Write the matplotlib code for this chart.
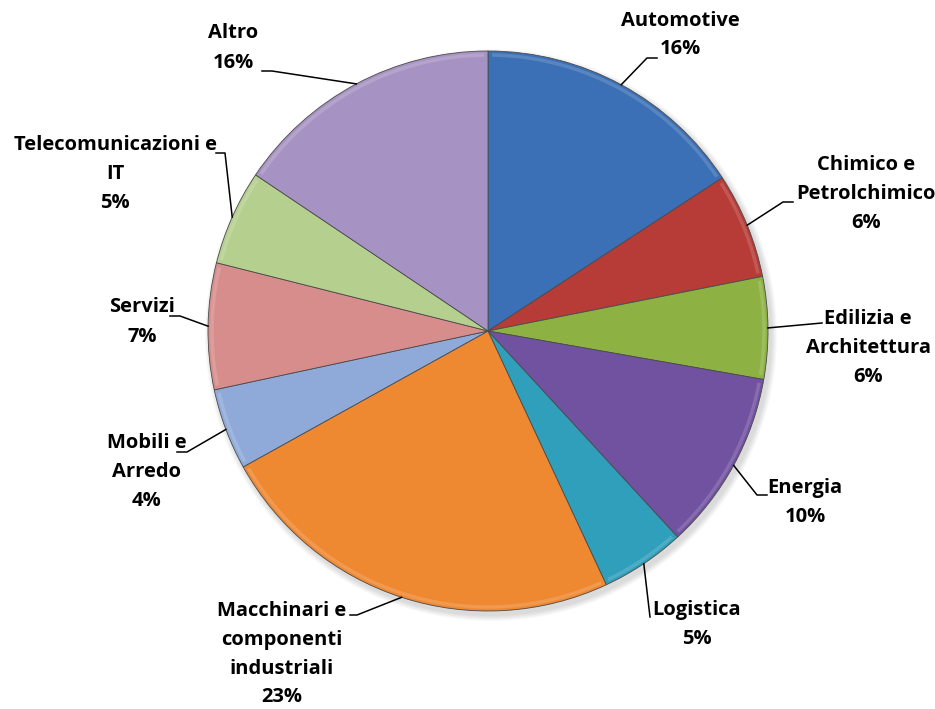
import numpy as np
import matplotlib.pyplot as plt

# sectors, clockwise from 12 o'clock
sectors = ['Automotive', 'Chimico e\nPetrolchimico', 'Edilizia e\nArchitettura', 'Energia',
           'Logistica', 'Macchinari e\ncomponenti\nindustriali', 'Mobili e\nArredo', 'Servizi',
           'Telecomunicazioni e\nIT', 'Altro']
shares = [15.8, 6.1, 5.9, 10.4, 4.9, 23.9, 4.7, 7.3, 5.5, 15.6]
pct_text = ['16%', '6%', '6%', '10%', '5%', '23%', '4%', '7%', '5%', '16%']

colors = ['#3B70B6', '#B73B37', '#8DB243', '#7152A0', '#309FBB',
          '#EE8831', '#8FAAD9', '#D68D8B', '#B4CF8E', '#A793C3']

W, H = 935, 709
def py(y):  # pixel row -> data y
    return H - y

# label block centre (px) and leader elbow / end (px)
label_xy = [(680, 35), (866, 194), (868, 348), (805, 503), (697, 624),
            (282, 654), (147, 472), (142, 322), (115, 174), (233, 48)]
elbow = [(647, 58), (783, 202), (822, 323), (757, 495), (650, 617),
         (357, 615), (187, 452), (180, 316), (225, 153), (272, 71)]
tail = [(657, 58), (793, 202), (822, 323), (767, 495), (650, 617),
        (350, 615), (177, 452), (170, 316), (216, 153), (262, 71)]

cx, cy, r = 488, 331, 280

fig = plt.figure(figsize=(W / 100, H / 100), dpi=100)
ax = fig.add_axes([0, 0, 1, 1])

# soft shadow
for k in range(6):
    sh = plt.Circle((cx + 3, py(cy) - 4), r + 1 + k, color='black', alpha=0.025, lw=0)
    ax.add_patch(sh)

wedges, _ = ax.pie(shares, colors=colors, startangle=90, counterclock=False,
                   center=(cx, py(cy)), radius=r, frame=True,
                   wedgeprops=dict(edgecolor='#4a4a4a', linewidth=0.6))
ax.set_xlim(0, W)
ax.set_ylim(0, H)
ax.set_aspect('equal')
ax.axis('off')

# light bevel along the rim
for w in wedges:
    th = np.radians(np.linspace(w.theta1 + 0.8, w.theta2 - 0.8, 60))
    ax.plot(cx + (r - 4) * np.cos(th), py(cy) + (r - 4) * np.sin(th),
            color='white', alpha=0.15, lw=2.5, solid_capstyle='butt')

font = ['Liberation Sans Narrow', 'Open Sans', 'DejaVu Sans']
for w, name, pct, lxy, el, tl in zip(wedges, sectors, pct_text, label_xy, elbow, tail):
    mid = np.radians((w.theta1 + w.theta2) / 2)
    sx, sy = cx + r * np.cos(mid), py(cy) + r * np.sin(mid)
    ax.plot([sx, el[0], tl[0]], [sy, py(el[1]), py(tl[1])], color='black', lw=1.1)
    ax.text(lxy[0], py(lxy[1]), name + '\n' + pct, ha='center', va='center',
            fontsize=14.5, fontweight='bold', family=font, linespacing=1.6)

fig.savefig('out.png', dpi=100)
